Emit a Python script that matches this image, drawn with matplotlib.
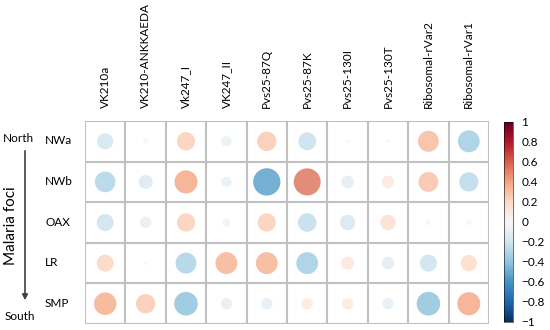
import numpy as np
import matplotlib
matplotlib.use("Agg")
import matplotlib.pyplot as plt
from matplotlib.patches import Circle, FancyArrowPatch
from matplotlib.colors import Normalize
from matplotlib.cm import ScalarMappable

plt.rcParams['font.family'] = ['Lato', 'DejaVu Sans']

# data
markers = ['VK210a', 'VK210-ANKKAEDA', 'Vk247_I', 'VK247_II', 'Pvs25-87Q',
           'Pvs25-87K', 'Pvs25-130I', 'Pvs25-130T', 'Ribosomal-rVar2', 'Ribosomal-rVar1']
foci = ['NWa', 'NWb', 'OAX', 'LR', 'SMP']
r_nwa = [-0.20, -0.02, 0.25, -0.08, 0.28, -0.24, 0.01, -0.01, 0.33, -0.36]
r_nwb = [-0.32, -0.15, 0.40, -0.08, -0.56, 0.55, -0.12, 0.12, 0.30, -0.28]
r_oax = [-0.22, -0.10, 0.25, -0.05, 0.25, -0.26, -0.18, 0.18, 0.02, -0.02]
r_lr = [0.22, 0.01, -0.33, 0.36, 0.36, -0.36, 0.13, -0.12, -0.22, 0.20]
r_smp = [0.38, 0.28, -0.42, -0.10, -0.10, 0.10, 0.10, -0.10, -0.42, 0.40]
corr = np.array([r_nwa, r_nwb, r_oax, r_lr, r_smp])

cmap = plt.get_cmap('RdBu_r')
norm = Normalize(-1, 1)

fig = plt.figure(figsize=(5.5, 3.3), dpi=100)
ax = fig.add_axes([85/550, 1-324/330, 404/550, 203/330])

nr, nc = corr.shape
for i in range(nr):
    for j in range(nc):
        v = corr[i, j]
        rad = 0.45 * np.sqrt(abs(v))
        ax.add_patch(Circle((j, i), rad, facecolor=cmap(norm(v)), edgecolor='none', alpha=0.8))

# grid
for x in np.arange(-0.5, nc, 1):
    ax.axvline(x, color='#c0c0c0', lw=1.5)
for y in np.arange(-0.5, nr, 1):
    ax.axhline(y, color='#c0c0c0', lw=1.5)

ax.set_xlim(-0.5, nc - 0.5)
ax.set_ylim(nr - 0.5, -0.5)
ax.set_xticks(range(nc))
ax.set_xticklabels(markers, rotation=90, fontsize=8.5)
ax.xaxis.tick_top()
ax.set_yticks([])
ax.tick_params(length=0, pad=9)
for s in ax.spines.values():
    s.set_visible(False)

# row labels, left aligned
for i, f in enumerate(foci):
    fig.text(45/550, 1 - (141 + i * 40.6) / 330, f, fontsize=8.5, ha='left', va='center')

fig.text(3/550, 1-138/330, 'North', fontsize=8.5, ha='left', va='center')
fig.text(5/550, 1-316/330, 'South', fontsize=8.5, ha='left', va='center')
fig.text(11/550, 1-226/330, 'Malaria foci', fontsize=11, rotation=90, ha='center', va='center')
fig.add_artist(FancyArrowPatch((25/550, 1-148/330), (25/550, 1-303/330),
               transform=fig.transFigure, arrowstyle='-|>', mutation_scale=8, color='#404040', lw=1.2))

cax = fig.add_axes([504/550, 1-322/330, 9/550, 200/330])
cb = fig.colorbar(ScalarMappable(norm=norm, cmap=cmap), cax=cax, ticks=np.linspace(-1, 1, 11))
cb.ax.set_yticklabels(['\u22121', '\u22120.8', '\u22120.6', '\u22120.4', '\u22120.2', '0',
                       '0.2', '0.4', '0.6', '0.8', '1'], fontsize=8.5)
cb.ax.tick_params(length=0, pad=6)
cb.outline.set_linewidth(0.4)

fig.savefig('out.png', dpi=100)
